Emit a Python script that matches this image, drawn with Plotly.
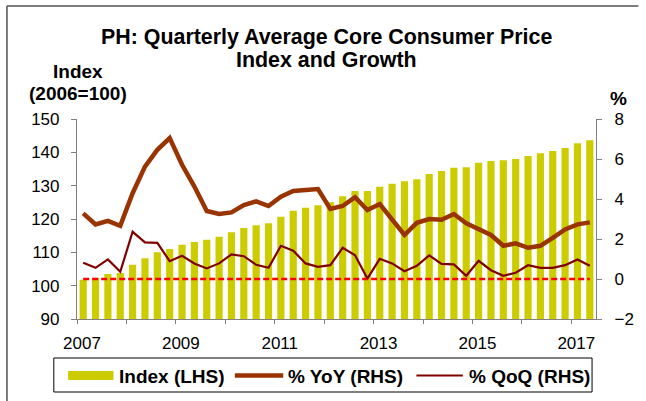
import plotly.graph_objects as go

# ---------------- data ----------------
quarters = ["2007Q1","2007Q2","2007Q3","2007Q4","2008Q1","2008Q2","2008Q3","2008Q4",
            "2009Q1","2009Q2","2009Q3","2009Q4","2010Q1","2010Q2","2010Q3","2010Q4",
            "2011Q1","2011Q2","2011Q3","2011Q4","2012Q1","2012Q2","2012Q3","2012Q4",
            "2013Q1","2013Q2","2013Q3","2013Q4","2014Q1","2014Q2","2014Q3","2014Q4",
            "2015Q1","2015Q2","2015Q3","2015Q4","2016Q1","2016Q2","2016Q3","2016Q4",
            "2017Q1","2017Q2"]

index_lhs = [101.8, 102.4, 103.5, 103.8, 106.3, 108.2, 110.0, 111.0, 112.3, 113.1,
             113.8, 114.7, 116.0, 117.3, 118.1, 118.7, 120.7, 122.5, 123.4, 124.1,
             125.0, 126.8, 128.4, 128.4, 129.7, 130.6, 131.3, 131.9, 133.5, 134.4,
             135.4, 135.5, 136.9, 137.4, 137.6, 138.0, 138.9, 139.7, 140.4, 141.3,
             142.7, 143.6]

yoy_rhs = [3.28, 2.73, 2.91, 2.66, 4.29, 5.62, 6.46, 7.05, 5.71, 4.62,
           3.40, 3.25, 3.33, 3.70, 3.88, 3.65, 4.12, 4.40, 4.45, 4.50,
           3.50, 3.65, 4.09, 3.45, 3.75, 2.95, 2.20, 2.81, 3.00, 2.96,
           3.25, 2.78, 2.50, 2.20, 1.66, 1.78, 1.56, 1.66, 2.06, 2.48,
           2.73, 2.83]

qoq_rhs = [0.81, 0.56, 0.98, 0.36, 2.36, 1.83, 1.81, 0.89, 1.16, 0.78,
           0.53, 0.78, 1.23, 1.14, 0.71, 0.56, 1.66, 1.41, 0.78, 0.61,
           0.69, 1.56, 1.19, 0.02, 1.01, 0.78, 0.39, 0.66, 1.18, 0.76,
           0.73, 0.16, 0.91, 0.44, 0.16, 0.31, 0.69, 0.56, 0.56, 0.69,
           0.98, 0.66]

zero_ref = [0.0, 0.0]   # reference line at 0 % (first to last quarter)

year_ticks = ["2007", "", "2009", "", "2011", "", "2013", "", "2015", "", "2017"]

# ---------------- geometry helpers (pixels -> paper) ----------------
W, H = 646, 401
L, R, T, B = 77, 603, 119, 319


def px(x):
    return (x - L) / (R - L)


def py(y):
    return (B - y) / (B - T)


FONT = "Liberation Sans, Arial, Helvetica, sans-serif"
AXC = "#808080"

xpos = list(range(len(quarters)))
tickpos = [i - 0.5 for i in range(0, len(quarters), 4)]

fig = go.Figure()
fig.add_bar(x=xpos, y=index_lhs, name="Index (LHS)", customdata=quarters,
            marker=dict(color="#CCCC00", line=dict(width=0)), width=0.58,
            yaxis="y", showlegend=False,
            hovertemplate="%{customdata}: %{y}<extra></extra>")
fig.add_scatter(x=[xpos[0], xpos[-1]], y=zero_ref, mode="lines", yaxis="y2",
                line=dict(color="#FF0000", width=2.5, dash="6px,3px"),
                showlegend=False, hoverinfo="skip")
fig.add_scatter(x=xpos, y=yoy_rhs, mode="lines", name="% YoY (RHS)", yaxis="y2",
                customdata=quarters, line=dict(color="#993300", width=4.5),
                showlegend=False, hovertemplate="%{customdata}: %{y}%<extra></extra>")
fig.add_scatter(x=xpos, y=qoq_rhs, mode="lines", name="% QoQ (RHS)", yaxis="y2",
                customdata=quarters, line=dict(color="#800000", width=2.2),
                showlegend=False, hovertemplate="%{customdata}: %{y}%<extra></extra>")

tickfont = dict(family=FONT, size=17, color="black")

fig.update_layout(
    width=W, height=H, autosize=False,
    margin=dict(l=L, r=W - R, t=T, b=H - B, pad=0),
    paper_bgcolor="white", plot_bgcolor="white",
    font=dict(family=FONT, color="black"),
    bargap=0.4,
    xaxis=dict(range=[-0.5, len(quarters) - 0.5], tickmode="array",
               tickvals=tickpos, ticktext=year_ticks, ticks="outside", ticklen=4,
               tickcolor=AXC, tickwidth=1.2, showline=True, linecolor=AXC,
               linewidth=1.2, showgrid=False, zeroline=False, tickfont=tickfont,
               ticklabelshift=5, ticklabelstandoff=4),
    yaxis=dict(range=[90, 150], tickmode="linear", tick0=90, dtick=10,
               ticks="outside", ticklen=5, tickcolor=AXC, tickwidth=1.2,
               showline=True, linecolor=AXC, linewidth=1.2, showgrid=False,
               zeroline=False, tickfont=tickfont, ticklabelstandoff=8),
    yaxis2=dict(range=[-2, 8], tickmode="linear", tick0=-2, dtick=2,
                overlaying="y", side="right", ticks="outside", ticklen=5,
                tickcolor=AXC, tickwidth=1.2, showline=True, linecolor=AXC,
                linewidth=1.2, showgrid=False, zeroline=False, tickfont=tickfont,
                ticklabelstandoff=9),
    showlegend=False,
)

ann = []


def add_text(text, x, y, size, xanchor="center", yanchor="middle"):
    ann.append(dict(text=text, x=px(x), y=py(y), xref="paper", yref="paper",
                    xanchor=xanchor, yanchor=yanchor, showarrow=False,
                    font=dict(family=FONT, size=size, color="black", weight="bold")))


# title (two lines)
add_text("PH: Quarterly Average Core Consumer Price", 329.5, 37, 21.4)
add_text("Index and Growth", 329.5, 60, 21.4)
# axis captions
add_text("Index", 78.5, 71, 19)
add_text("(2006=100)", 78.5, 93, 19)
add_text("%", 626, 98, 19)
# legend texts
add_text("Index (LHS)", 118, 376, 19, xanchor="left")
add_text("% YoY (RHS)", 289, 376, 19, xanchor="left")
add_text("% QoQ (RHS)", 472, 376, 19, xanchor="left")

shapes = [
    # outer frame (left & top edges)
    dict(type="line", xref="paper", yref="paper", x0=px(6), x1=px(646), y0=py(6), y1=py(6),
         line=dict(color="#505050", width=1.5)),
    dict(type="line", xref="paper", yref="paper", x0=px(6), x1=px(6), y0=py(6), y1=py(401),
         line=dict(color="#505050", width=1.5)),
    # legend box
    dict(type="rect", xref="paper", yref="paper", x0=px(53.5), x1=px(599), y0=py(358), y1=py(392),
         line=dict(color="black", width=1), fillcolor="rgba(0,0,0,0)"),
    # legend swatches
    dict(type="rect", xref="paper", yref="paper", x0=px(68), x1=px(114), y0=py(371), y1=py(380),
         line=dict(width=0), fillcolor="#CCCC00"),
    dict(type="line", xref="paper", yref="paper", x0=px(237), x1=px(286), y0=py(375.5), y1=py(375.5),
         line=dict(color="#993300", width=4.5)),
    dict(type="line", xref="paper", yref="paper", x0=px(421), x1=px(468), y0=py(375.5), y1=py(375.5),
         line=dict(color="#800000", width=2)),
]

fig.update_layout(annotations=ann, shapes=shapes)

# remove the browser's default page margin so the figure sits at (0, 0)
fig.write_html("out.html",
               config={"displayModeBar": False},
               post_script="document.body.style.margin='0px';document.body.style.overflow='hidden';")
